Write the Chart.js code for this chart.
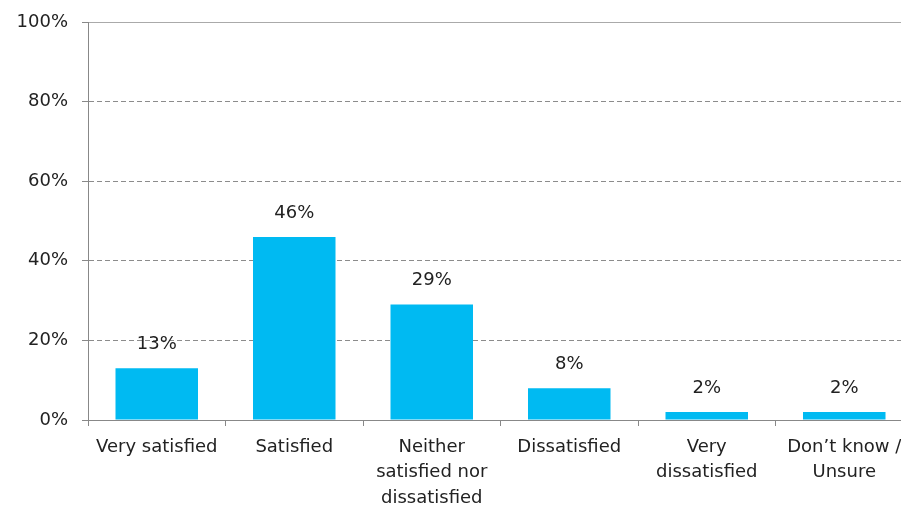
<!DOCTYPE html>
<html>
<head>
<meta charset="utf-8">
<script src="https://cdn.jsdelivr.net/npm/chart.js@4"></script>
<style>
    html, body { margin: 0; padding: 0; background: #fff; overflow: hidden; }
    #wrap { position: relative; width: 930px; height: 506px; }
</style>
</head>
<body>
<div id="wrap"><canvas id="satChart"></canvas></div>
<script>
// Survey answers and their shares (%)
const categories = [
    "Very satisfied",
    "Satisfied",
    ["Neither", "satisfied nor", "dissatisfied"],
    "Dissatisfied",
    ["Very", "dissatisfied"],
    ["Don\u2019t know /", "Unsure"]
];
const shares = [13, 46, 29, 8, 2, 2];
const yTicks = [0, 20, 40, 60, 80, 100];

const textColor = "#222";
const fontFamily = "'DejaVu Sans', Verdana, sans-serif";

// Writes the percentage above each bar
const valueLabels = {
    id: "valueLabels",
    afterDatasetsDraw(chart) {
        const ctx = chart.ctx;
        ctx.save();
        ctx.font = "18px " + fontFamily;
        ctx.fillStyle = textColor;
        ctx.textAlign = "center";
        ctx.textBaseline = "middle";
        chart.getDatasetMeta(0).data.forEach(function(bar, i) {
            ctx.fillText(shares[i] + "%", bar.x, bar.y - 24);
        });
        ctx.restore();
    }
};

new Chart(document.getElementById("satChart"), {
    type: "bar",
    data: {
        labels: categories,
        datasets: [{
            data: shares,
            backgroundColor: "#00BAF2",
            categoryPercentage: 1,
            barPercentage: 0.6
        }]
    },
    options: {
        responsive: true,
        maintainAspectRatio: false,
        animation: false,
        layout: { padding: { top: 22, right: 17, left: 0, bottom: 0 } },
        plugins: {
            legend: { display: false },
            tooltip: { enabled: false }
        },
        scales: {
            x: {
                grid: {
                    display: true,
                    drawOnChartArea: false,
                    tickLength: 6,
                    color: "#888",
                    offset: true
                },
                border: { color: "#888", width: 1 },
                ticks: {
                    color: textColor,
                    font: { family: fontFamily, size: 18, lineHeight: 1.4 },
                    padding: 9,
                    maxRotation: 0,
                    autoSkip: false
                },
                afterFit: function(scale) { scale.height = 86; }
            },
            // solid rule along the top of the plot
            top: {
                type: "category",
                position: "top",
                grid: { display: false, drawTicks: false },
                ticks: { display: false },
                border: { color: "#aaa", width: 1 },
                afterFit: function(scale) { scale.height = 0; }
            },
            y: {
                min: 0,
                max: 100,
                afterBuildTicks: function(scale) {
                    scale.ticks = yTicks.map(function(v) { return { value: v }; });
                },
                grid: {
                    color: function(c) { return c.tick && c.tick.value === 100 ? "rgba(0,0,0,0)" : "#8c8c8c"; },
                    tickColor: "#888",
                    tickLength: 6
                },
                border: { color: "#888", width: 1, dash: [5, 3] },
                ticks: {
                    color: textColor,
                    font: { family: fontFamily, size: 18 },
                    padding: 14,
                    callback: function(v) { return v + "%"; }
                },
                afterFit: function(scale) {
                    scale.width = 88;
                    scale.paddingTop = 0;
                    scale.paddingBottom = 0;
                }
            }
        }
    },
    plugins: [valueLabels]
});
</script>
</body>
</html>
